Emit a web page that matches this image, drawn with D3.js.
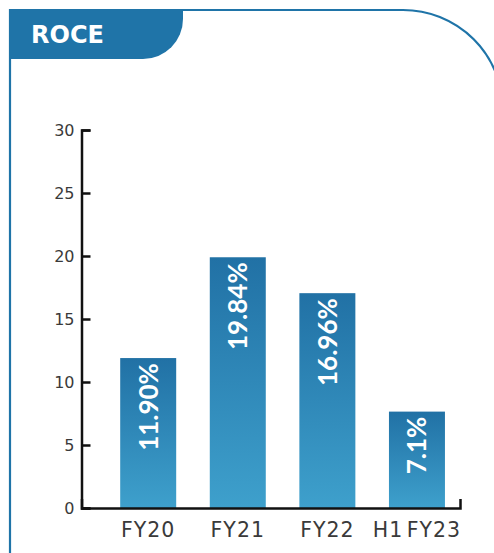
<!DOCTYPE html>
<html><head><meta charset="utf-8">
<script src="https://cdn.jsdelivr.net/npm/d3@7"></script>
<style>html,body{margin:0;padding:0;background:#fff;}svg{display:block;}</style>
</head><body>
<svg id="chart" width="494" height="553"></svg>
<script>
const title = "ROCE";
const categories = ["FY20", "FY21", "FY22", "H1 FY23"];
const values = [11.9, 19.9, 17.05, 7.65];
const valueLabels = ["11.90%", "19.84%", "16.96%", "7.1%"];
const yTicks = [0, 5, 10, 15, 20, 25, 30];

const svg = d3.select("#chart");
const blue = "#1f74a8";

// gradient
const defs = svg.append("defs");
const grad = defs.append("linearGradient").attr("id", "barGrad")
  .attr("x1", 0).attr("y1", 0).attr("x2", 0).attr("y2", 1);
grad.append("stop").attr("offset", "0%").attr("stop-color", "#2171a5");
grad.append("stop").attr("offset", "100%").attr("stop-color", "#3ea0cc");

// frame
svg.append("path")
  .attr("d", "M10,560 V10 H403 A100,100 0 0 1 503,110")
  .attr("fill", "none").attr("stroke", blue).attr("stroke-width", 2.2);

// tab
svg.append("path")
  .attr("d", "M9,9 H183 V19 A40,40 0 0 1 143,59 H9 Z")
  .attr("fill", blue);
svg.append("text").attr("x", 31).attr("y", 43)
  .attr("fill", "#fff").attr("font-family", "DejaVu Sans").attr("font-weight", "bold")
  .attr("font-size", 24).text(title);

const y = d3.scaleLinear().domain([0, 30]).range([508, 130]);
const x = d3.scaleBand().domain(categories).range([81.5, 460])
  .paddingInner(0.375).paddingOuter(0.3).align(0.72);

// bars
svg.append("g").selectAll("rect").data(values).join("rect")
  .attr("x", (d, i) => x(categories[i]))
  .attr("width", x.bandwidth())
  .attr("y", d => y(d))
  .attr("height", d => y(0) - y(d))
  .attr("fill", "url(#barGrad)");

// bar labels
svg.append("g").selectAll("text").data(values).join("text")
  .attr("transform", (d, i) => `translate(${x(categories[i]) + x.bandwidth() / 2},${y(d) + 5}) rotate(-90)`)
  .attr("text-anchor", "end").attr("dy", "0.36em")
  .attr("fill", "#fff").attr("font-family", "Lato").attr("font-weight", 700)
  .attr("font-size", 26)
  .text((d, i) => valueLabels[i]);

// y axis
const yAxis = svg.append("g").attr("transform", "translate(81.5,0)")
  .call(d3.axisLeft(y).tickValues(yTicks).tickSize(-9).tickPadding(7));
yAxis.selectAll("path,line").attr("stroke", "#111").attr("stroke-width", 2.5);
yAxis.selectAll("text").attr("font-family", "DejaVu Sans").attr("font-size", 16).attr("fill", "#3a3a3a");

// x axis
const xAxis = svg.append("g").attr("transform", "translate(0,508)")
  .call(d3.axisBottom(x).tickSizeInner(0).tickSizeOuter(-9).tickPadding(14));
xAxis.selectAll("path").attr("stroke", "#111").attr("stroke-width", 2.5).attr("fill", "none");
xAxis.selectAll("text").attr("font-family", "DejaVu Sans").attr("font-size", 20.5)
  .attr("letter-spacing", 1).attr("word-spacing", -4).attr("fill", "#3a3a3a");
</script>
</body></html>
